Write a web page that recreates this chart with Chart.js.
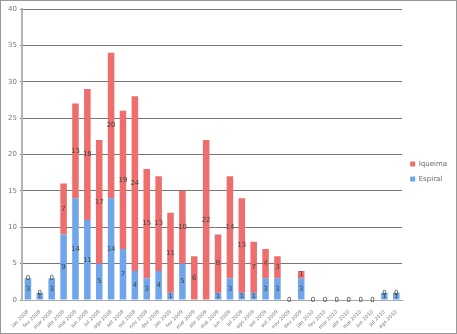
<!DOCTYPE html>
<html>
<head>
<meta charset="utf-8">
<script src="https://cdn.jsdelivr.net/npm/chart.js@4"></script>
<style>
  html, body { margin: 0; padding: 0; background: #fff; }
  #wrap { width: 457px; height: 334px; }
</style>
</head>
<body>
<div id="wrap"><canvas id="chart" width="457" height="334"></canvas></div>
<script>
const categories = [
  "jan 2008", "fev 2008", "mar 2008", "abr 2008", "mai 2008", "jun 2008", "jul 2008", "ago 2008",
  "set 2008", "out 2008", "nov 2008", "dez 2008", "jan 2009", "fev 2009", "mar 2009", "abr 2009",
  "mai 2009", "jun 2009", "jul 2009", "ago 2009", "set 2009", "out 2009", "nov 2009", "dez 2009",
  "jan 2010", "fev 2010", "mar 2010", "abr 2010", "mai 2010", "jun 2010", "jul 2010", "ago 2010"
];
const espiral = [3, 1, 3, 9, 14, 11, 5, 14, 7, 4, 3, 4, 1, 5, 0, 0, 1, 3, 1, 1, 3, 3, 0, 3, 0, 0, 0, 0, 0, 0, 1, 1];
const queima = [0, 0, 0, 7, 13, 18, 17, 20, 19, 24, 15, 13, 11, 10, 6, 22, 8, 14, 13, 7, 4, 3, 0, 1, 0, 0, 0, 0, 0, 0, 0, 0];
const yTicks = [0, 5, 10, 15, 20, 25, 30, 35, 40];

// numbers in the middle of each segment
const segmentLabels = {
  id: "segmentLabels",
  afterDatasetsDraw(chart) {
    const ctx = chart.ctx;
    ctx.save();
    ctx.font = "7px 'DejaVu Sans'";
    ctx.fillStyle = "#444";
    ctx.textAlign = "center";
    ctx.textBaseline = "middle";
    chart.data.datasets.forEach((ds, i) => {
      chart.getDatasetMeta(i).data.forEach((bar, j) => {
        // blue zeros sit under the red label, skip them
        if (i === 0 && ds.data[j] === 0) return;
        const y = (bar.y + bar.base) / 2;
        ctx.fillText(ds.data[j], bar.x, y);
      });
    });
    ctx.restore();
  }
};

const frame = {
  id: "frame",
  beforeDraw(chart) {
    const ctx = chart.ctx;
    ctx.save();
    ctx.fillStyle = "#fff";
    ctx.fillRect(0, 0, chart.width, chart.height);
    ctx.strokeStyle = "#999";
    ctx.lineWidth = 1;
    ctx.strokeRect(0.5, 0.5, chart.width - 1, chart.height - 1);
    ctx.restore();
  }
};

const config = {
  type: "bar",
  data: {
    labels: categories,
    datasets: [
      {
        label: "Espiral",
        data: espiral,
        backgroundColor: "#6fa5ea",
      },
      {
        label: "Iqueima",
        data: queima,
        backgroundColor: "#ee6e6e",
      },
    ],
  },
  options: {
    responsive: false,
    animation: false,
    layout: { padding: { top: 9, right: 0, left: 0, bottom: 0 } },
    plugins: {
      tooltip: { enabled: false },
      legend: {
        position: "right",
        reverse: true,
        labels: {
          boxWidth: 5,
          boxHeight: 5,
          padding: 8,
          color: "#666",
          font: { size: 7, family: "'DejaVu Sans'" },
        },
      },
    },
    scales: {
      x: {
        stacked: true,
        grid: { display: false },
        border: { color: "#aaa" },
        ticks: {
          maxRotation: 45,
          minRotation: 45,
          autoSkip: false,
          color: "#777",
          font: { size: 5, family: "'DejaVu Sans'" },
          padding: 1,
        },
        afterFit: (scale) => { scale.height = 34; },
      },
      y: {
        stacked: true,
        min: 0,
        max: 40,
        afterBuildTicks: (scale) => { scale.ticks = yTicks.map((v) => ({ value: v })); },
        grid: { color: "#777", lineWidth: 1, tickLength: 2 },
        border: { color: "#b4b4b4", width: 2 },
        ticks: {
          color: "#777",
          font: { size: 7, family: "'DejaVu Sans'" },
          padding: 3,
        },
        afterFit: (scale) => { scale.width = 22; },
      },
    },
    datasets: {
      bar: { barPercentage: 0.55, categoryPercentage: 1 },
    },
  },
  plugins: [frame, segmentLabels],
};

const myChart = new Chart(document.getElementById("chart"), config);
</script>
</body>
</html>
